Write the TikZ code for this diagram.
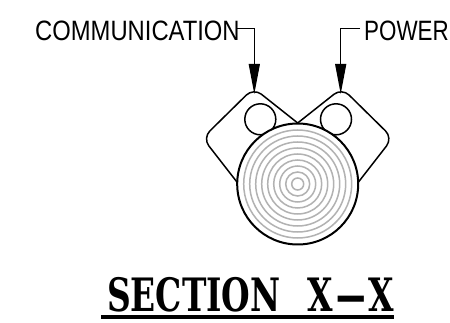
\documentclass[tikz,border=0pt]{standalone}
\usepackage{fontspec}
\setmainfont{Liberation Sans}
\newfontfamily\titlefont{DejaVu Serif}
\usetikzlibrary{arrows.meta,calc}
\tikzset{
  x=1pt,y=-1pt,
  leader/.style={line width=1.3pt,-{Triangle[length=30pt,width=11pt]}},
  housing/.style={line width=1.5pt,rounded corners=10pt,line join=round},
  conductor/.style={line width=1.5pt,draw=black,fill=white},
  ring/.style={line width=1.5pt,draw=black!30},
  cable/.style={line width=2pt,draw=black},
  labeltext/.style={inner sep=0pt,font=\fontsize{28}{28}\selectfont,anchor=base west},
}
\begin{document}
\begin{tikzpicture}
\useasboundingbox (0,0) rectangle (450,323);
\fill[white] (0,0) rectangle (450,323);
\coordinate (c) at (297.7,184);
% housings
\draw[housing] (237.7,183) -- (202.7,138) -- (253.5,88) -- (297.7,123);
\draw[housing] (357.7,183) -- (392.7,138) -- (341.9,88) -- (297.7,123);
% small conductors
\node[conductor,circle,minimum size=31pt,inner sep=0pt] (commcore) at (260.3,119.3) {};
\node[conductor,circle,minimum size=31pt,inner sep=0pt] (powercore) at (336,119.3) {};
% main cable
\node[cable,fill=white,circle,minimum size=121pt,inner sep=0pt] (main) at (c) {};
\foreach \r in {6,12,...,54}{\draw[ring] (c) circle[radius=\r];}
% labels
\node[labeltext,xscale=.85] (comm) at (35,41) {COMMUNICATION};
\node[labeltext,xscale=.80] (power) at (364,41) {POWER};
\coordinate (commelbow) at (236.7,28.3);
\coordinate (commtip) at (254.3,94);
\coordinate (powerelbow) at (360,28.3);
\coordinate (powertip) at (340.7,94);
\draw[leader] (commelbow) -| (commtip);
\draw[leader] (powerelbow) -| (powertip);
% title
\node[inner sep=0pt,anchor=base west,xscale=.715,font=\titlefont\bfseries\fontsize{46}{46}\selectfont] (title) at (107,311) {SECTION\hspace{38pt}X\scalebox{2.6}[1]{-}X};
\coordinate (ulA) at (101,317);
\coordinate (ulB) at (394,317);
\draw[line width=3.5pt] (ulA) -- (ulB);
\end{tikzpicture}
\end{document}
